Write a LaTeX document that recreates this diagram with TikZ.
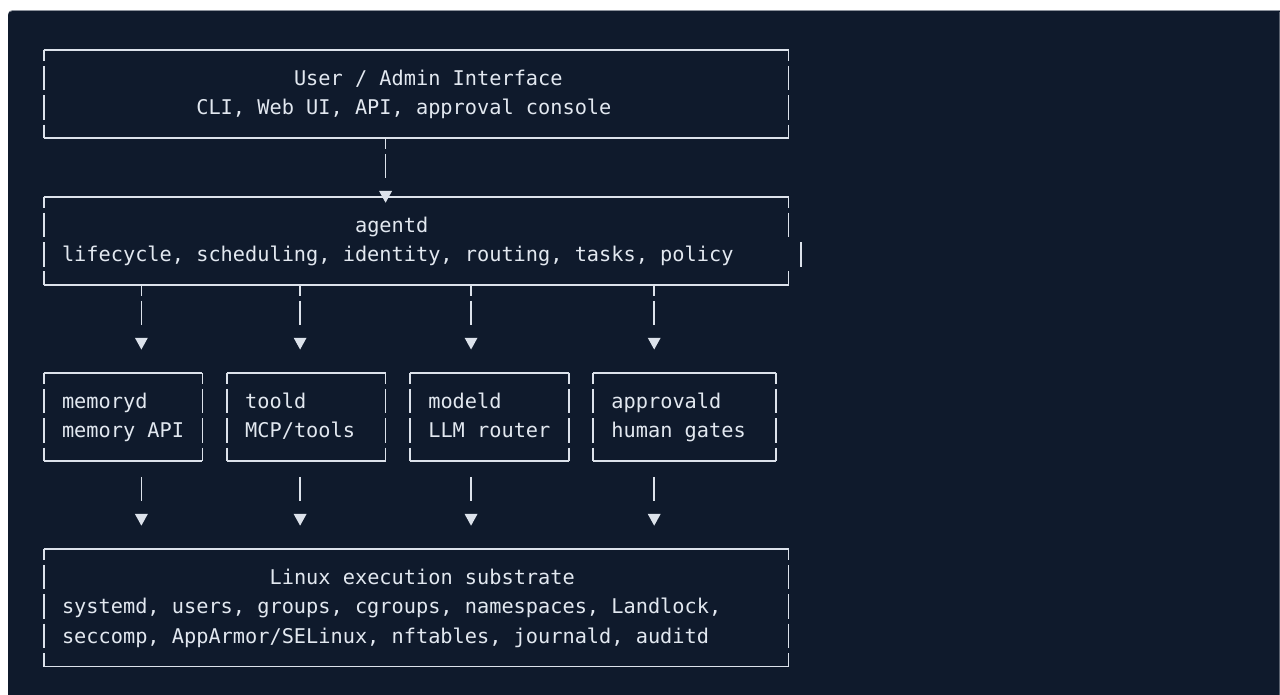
\documentclass[tikz,border=0pt]{standalone}
\usepackage{fontspec}
\newfontfamily\mono{DejaVu Sans Mono}
\usetikzlibrary{arrows.meta,fit}

\definecolor{panel}{HTML}{0F1A2C}
\definecolor{rim}{HTML}{8C929C}
\definecolor{ink}{HTML}{E2E8F0}
\definecolor{rule}{HTML}{DCE2EB}

\tikzset{
  declare function={colx(\c)=43.7+12.21*\c; rowy(\r)=50+29.36*\r;},
  boxnode/.style={draw=none, inner sep=0pt, outer sep=0pt},
  txt/.style={anchor=base west, inner sep=0pt, outer sep=0pt, text=ink,
    font=\mono\fontsize{20.28pt}{29.36pt}\selectfont},
  hline/.style={draw=rule, line width=1.6pt},
  vline/.style={draw=rule, line width=1.7pt, dash pattern=on 24.5pt off 4.86pt, dash phase=13.5pt},
  bar/.style={draw=rule, line width=1.7pt},
  conn/.style={draw=rule, line width=1.7pt, -{Triangle[width=12.5pt,length=11.8pt]}},
  fromjoin/.style={conn, dash pattern=on 11pt off 4.86pt on 24.5pt off 400pt},
  fromplain/.style={conn, dash pattern=on 0pt off 15.86pt on 24.5pt off 400pt},
}

% a box spanning character columns #2..#3 and text rows #4..#5
\newcommand\gridbox[5]{%
  \path ({colx(#2)},{rowy(#4)}) coordinate (#1-a)
        ({colx(#3)},{rowy(#5)}) coordinate (#1-b);
  \node[boxnode, fit=(#1-a)(#1-b)] (#1) {};
}
% full outline of a box
\newcommand\boxedges[1]{%
  \draw[hline] (#1.north west) -- (#1.north east) (#1.south west) -- (#1.south east);
  \draw[vline] (#1.north west) -- (#1.south west) (#1.north east) -- (#1.south east);
}
% text placed at character column #2, row #3
\newcommand\gridtext[4]{%
  \node[txt] (#1) at ({colx(#2)-6.105},{rowy(#3)+6}) {#4};
}

\begin{document}
\begin{tikzpicture}[x=1pt,y=-1pt]
\useasboundingbox (0,0) rectangle (1280,695);
\fill[white] (0,0) rectangle (1280,695);
\fill[rim, rounded corners=4pt] (8,10.2) rectangle (1290,720);
\fill[panel, rounded corners=4pt] (8,11.2) rectangle (1290,720);
\fill[rim!60!panel] (1279.2,12) rectangle (1280,695);

% boxes
\gridbox{ui}{0}{61}{0}{3}
\gridbox{agentd}{0}{61}{5}{8}
\gridbox{memoryd}{0}{13}{11}{14}
\gridbox{toold}{15}{28}{11}{14}
\gridbox{modeld}{30}{43}{11}{14}
\gridbox{approvald}{45}{60}{11}{14}
\gridbox{linux}{0}{61}{17}{21}

\boxedges{ui}
\boxedges{memoryd}
\boxedges{toold}
\boxedges{modeld}
\boxedges{approvald}
\boxedges{linux}

% agentd: its right side skips one row, the bar sits one column further out
\draw[hline] (agentd.north west) -- (agentd.north east) (agentd.south west) -- (agentd.south east);
\draw[vline] (agentd.north west) -- (agentd.south west);
\draw[vline] (agentd.north east) -- ++(0,40.36);
\draw[bar] (agentd.south east) -- ++(0,-13.5);
\coordinate (stray) at ({colx(62)},{rowy(7)});
\draw[bar] (stray) ++(0,-13.5) -- ++(0,24.5);

% texts
\gridtext{ui-1}{21}{1}{User / Admin Interface}
\gridtext{ui-2}{13}{2}{CLI, Web UI, API, approval console}
\gridtext{agentd-1}{26}{6}{agentd}
\gridtext{agentd-2}{2}{7}{lifecycle, scheduling, identity, routing, tasks, policy}
\gridtext{memoryd-1}{2}{12}{memoryd}
\gridtext{memoryd-2}{2}{13}{memory API}
\gridtext{toold-1}{17}{12}{toold}
\gridtext{toold-2}{17}{13}{MCP/tools}
\gridtext{modeld-1}{32}{12}{modeld}
\gridtext{modeld-2}{32}{13}{LLM router}
\gridtext{approvald-1}{47}{12}{approvald}
\gridtext{approvald-2}{47}{13}{human gates}
\gridtext{linux-1}{19}{18}{Linux execution substrate}
\gridtext{linux-2}{2}{19}{systemd, users, groups, cgroups, namespaces, Landlock,}
\gridtext{linux-3}{2}{20}{seccomp, AppArmor/SELinux, nftables, journald, auditd}

% connector columns
\coordinate (k28) at ({colx(28)},0);
\coordinate (k8)  at ({colx(8)},0);
\coordinate (k21) at ({colx(21)},0);
\coordinate (k35) at ({colx(35)},0);
\coordinate (k50) at ({colx(50)},0);

% connectors
\draw[fromjoin, shorten >=-6pt] (ui.south -| k28) -- (agentd.north -| k28);

\draw[fromjoin, shorten >=23.4pt] (agentd.south -| k8)  -- (memoryd.north -| k8);
\draw[fromjoin, shorten >=23.4pt] (agentd.south -| k21) -- (toold.north -| k21);
\draw[fromjoin, shorten >=23.4pt] (agentd.south -| k35) -- (modeld.north -| k35);
\draw[fromjoin, shorten >=23.4pt] (agentd.south -| k50) -- (approvald.north -| k50);

\draw[fromplain, shorten >=23.4pt] (memoryd.south -| k8)    -- (linux.north -| k8);
\draw[fromplain, shorten >=23.4pt] (toold.south -| k21)     -- (linux.north -| k21);
\draw[fromplain, shorten >=23.4pt] (modeld.south -| k35)    -- (linux.north -| k35);
\draw[fromplain, shorten >=23.4pt] (approvald.south -| k50) -- (linux.north -| k50);
\end{tikzpicture}
\end{document}
